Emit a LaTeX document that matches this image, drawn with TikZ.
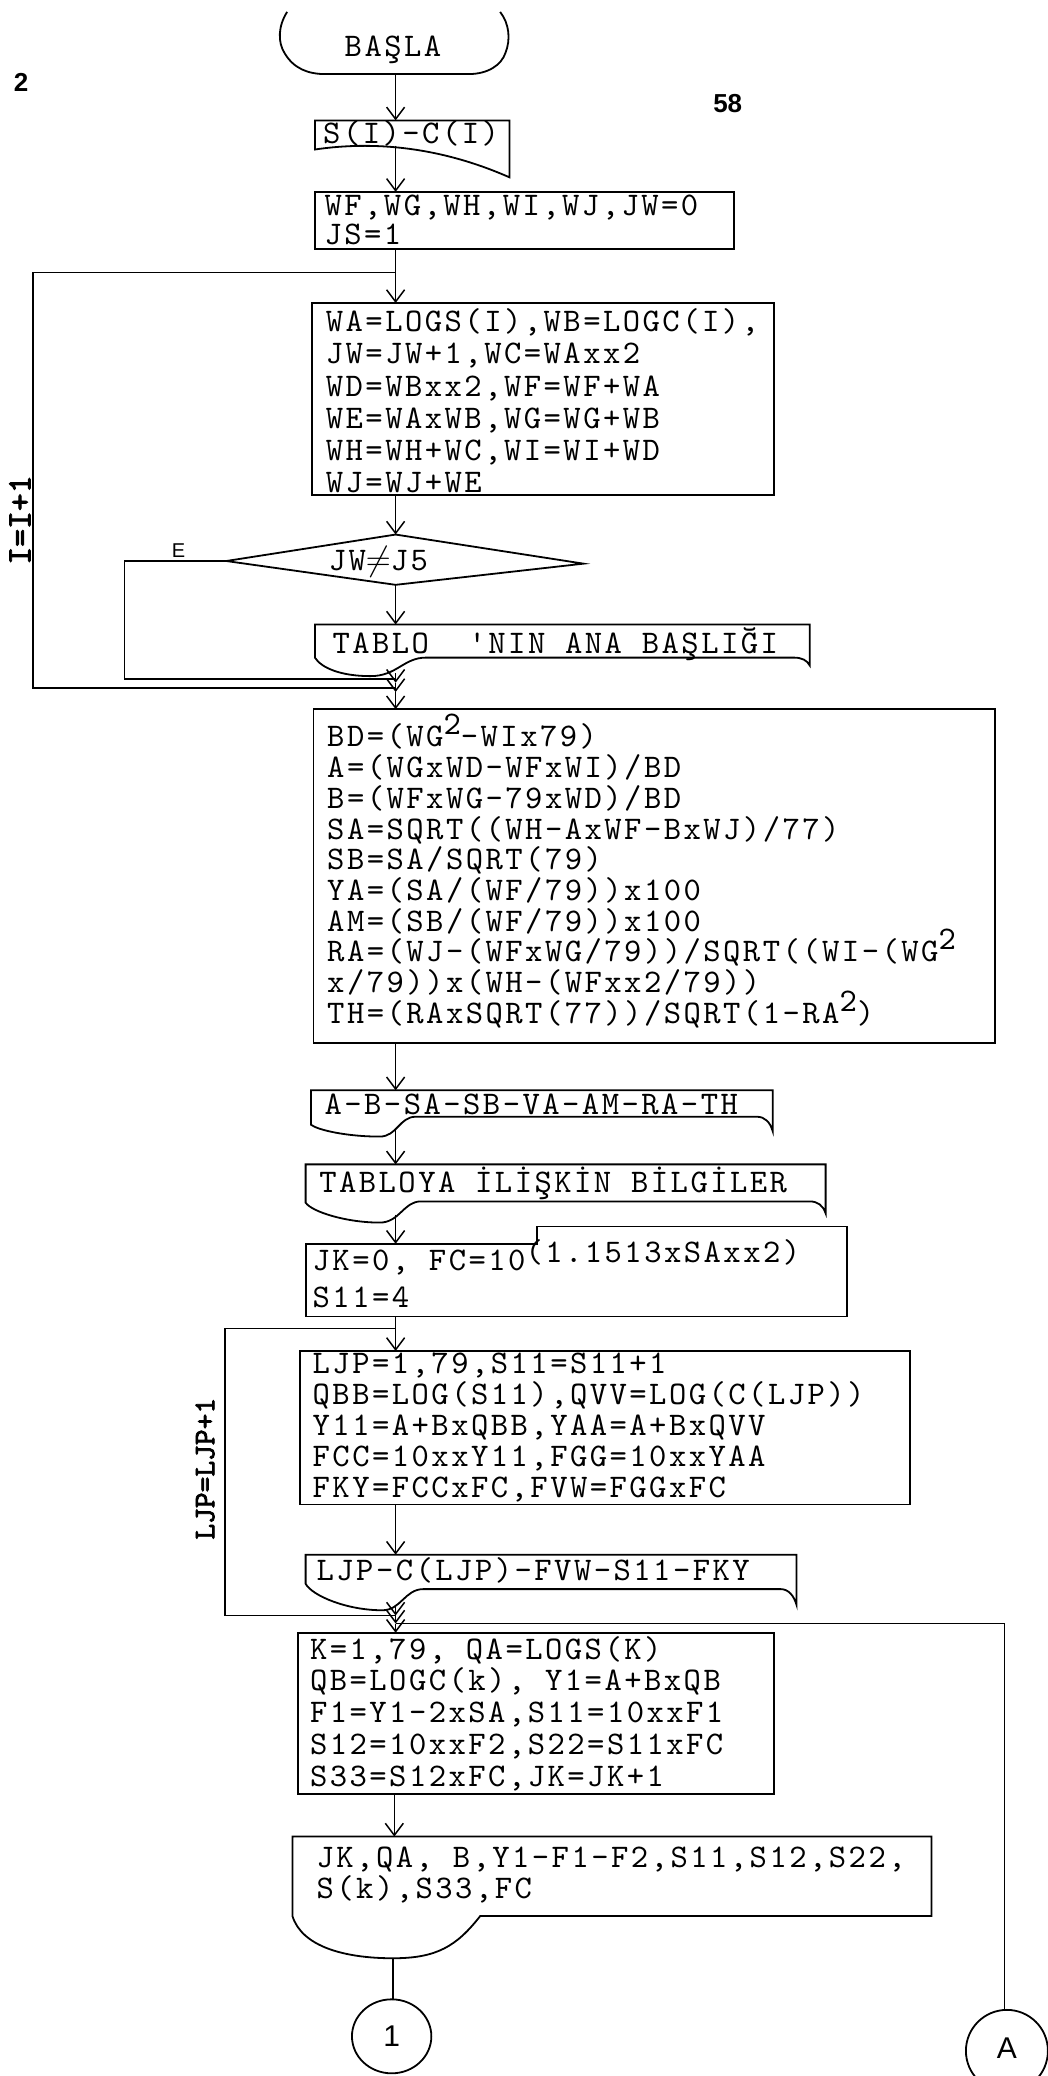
\documentclass[tikz,border=0pt]{standalone}
\usepackage{fontspec}
\usetikzlibrary{arrows.meta}
\newfontfamily\tw{lmmono10-regular.otf}[LetterSpace=7.5]
\newfontfamily\twb{lmmono10-regular.otf}[FakeBold=2.5]
\newfontfamily\hs{Liberation Sans}
\newcommand\sups[1]{\smash{\raisebox{6pt}{#1}}}
\begin{document}
\begin{tikzpicture}[x=0.6616pt,y=-0.6616pt,
  ln/.style={line width=0.75pt},
  arr/.style={line width=0.75pt,-{Straight Barb[length=6pt,width=9pt]}},
  shp/.style={line width=0.9pt},
  txt/.style={font={\tw\fontsize{16.5}{#1}\selectfont\lineskiplimit=-100pt}, inner sep=0pt, anchor=west, align=left},
  txt/.default=15.5,
  lbl/.style={font={\twb\fontsize{17}{17}\selectfont}, inner sep=0pt, rotate=90},
  num/.style={font={\hs\bfseries\fontsize{13}{13}\selectfont}, inner sep=0pt},
]
\useasboundingbox (0,0) rectangle (792,1569);
\clip (0,0) rectangle (792,1569);
\fill[white] (0,0) rectangle (792,1569);

% page numbers
\node[num] (pg2) at (16,62) {2};
\node[num] (pg58) at (550,78) {58};

% start terminal (open at top)
\draw[shp] (217,9) .. controls (210,20) and (210,32) .. (215,40) .. controls (222,52) and (233,56) .. (246,56) -- (354,56) .. controls (369,56) and (379,49) .. (382,40) .. controls (386,30) and (385,18) .. (378,9);
\node[txt, anchor=center] (basla) at (297,38) {BAŞLA};
\coordinate (basla-s) at (299,56);

% input document S(I)-C(I)
\draw[shp] (238,91) -- (385,91) -- (385,134) .. controls (335,112) and (285,106) .. (238,113) -- cycle;
\node[txt] (inp) at (244,101) {S(I)-C(I)};
\coordinate (inp-n) at (299,91);
\coordinate (inp-s) at (299,110);
\draw[arr] (basla-s) -- (inp-n);

% init box
\draw[shp] (238,145) rectangle (555,188);
\node[txt=14.6] (init) at (245,166.5) {WF,WG,WH,WI,WJ,JW=0\\JS=1};
\coordinate (init-n) at (299,145);
\coordinate (init-s) at (299,188);
\draw[arr] (inp-s) -- (init-n);

% loop body box
\draw[shp] (236,229) rectangle (585,374);
\node[txt=16.1] (body) at (246,303) {WA=LOGS(I),WB=LOGC(I),\\JW=JW+1,WC=WAxx2\\WD=WBxx2,WF=WF+WA\\WE=WAxWB,WG=WG+WB\\WH=WH+WC,WI=WI+WD\\WJ=WJ+WE};
\coordinate (body-n) at (299,229);
\coordinate (body-s) at (299,374);
\draw[arr] (init-s) -- (body-n);

% decision
\coordinate (dl) at (171,424);
\coordinate (dt) at (299,404);
\coordinate (dr) at (441,426);
\coordinate (db) at (299,442);
\draw[shp] (dl) -- (dt) -- (dr) -- (db) -- cycle;
\node[txt, anchor=center] (dec) at (286,425) {JW$\neq$J5};
\node[font={\hs\fontsize{10}{10}\selectfont}, inner sep=0pt] (elbl) at (135,416) {E};
\draw[arr] (body-s) -- (dt);

% table heading document
\draw[shp] (238,472) -- (612,472) -- (612,503) .. controls (610,499) and (606,497) .. (600,497) -- (322,497) .. controls (305,497) and (300,511) .. (280,511) .. controls (258,511) and (243,505) .. (238,497) -- cycle;
\node[txt] (head) at (251,487) {TABLO\ \ 'NIN ANA BAŞLIĞI};
\coordinate (head-n) at (299,472);
\coordinate (head-s) at (299,509);
\draw[arr] (db) -- (head-n);

% junctions
\coordinate (j1) at (299,516);
\coordinate (j2) at (299,523);
\coordinate (ej) at (299,513);
\coordinate (oj) at (299,520);
\coordinate (ot) at (299,206);
\draw[ln] (dl) -- (94,424) -- (94,513) -- (ej);
\draw[ln] (oj) -- (25,520) -- (25,206) -- (ot);
\node[lbl] (iinc) at (15,393) {I=I+1};
\draw[arr] (head-s) -- (j1);
\draw[arr] (j1) -- (j2);

% regression box
\draw[shp] (237,536) rectangle (752,788);
\node[txt=15.35] (reg) at (247,662) {BD=(WG\sups{2}-WIx79)\\A=(WGxWD-WFxWI)/BD\\B=(WFxWG-79xWD)/BD\\SA=SQRT((WH-AxWF-BxWJ)/77)\\SB=SA/SQRT(79)\\YA=(SA/(WF/79))x100\\AM=(SB/(WF/79))x100\\RA=(WJ-(WFxWG/79))/SQRT((WI-(WG\sups{2}\\x/79))x(WH-(WFxx2/79))\\TH=(RAxSQRT(77))/SQRT(1-RA\sups{2})};
\coordinate (reg-n) at (299,536);
\coordinate (reg-s) at (299,788);
\draw[arr] (j2) -- (reg-n);

% output A-B-...
\draw[shp] (235,824) -- (584,824) -- (584,855) .. controls (582,848) and (578,844) .. (572,844) -- (314,844) .. controls (302,844) and (300,859) .. (287,859) .. controls (262,859) and (240,854) .. (235,850) -- cycle;
\node[txt] (out1) at (245,835) {A-B-SA-SB-VA-AM-RA-TH};
\coordinate (out1-n) at (299,824);
\coordinate (out1-s) at (299,853);
\draw[arr] (reg-s) -- (out1-n);

% output TABLOYA ...
\draw[shp] (231,880) -- (624,880) -- (624,917) .. controls (622,911) and (618,908) .. (612,908) -- (318,908) .. controls (305,908) and (302,924) .. (287,924) .. controls (262,924) and (236,916) .. (231,909) -- cycle;
\node[txt] (out2) at (241,894) {TABLOYA İLİŞKİN BİLGİLER};
\coordinate (out2-n) at (299,880);
\coordinate (out2-s) at (299,918);
\draw[arr] (out1-s) -- (out2-n);

% JK box
\draw[shp] (231,940) -- (406,940) -- (406,927) -- (640,927) -- (640,995) -- (231,995) -- cycle;
\node[txt=18.5] (jk) at (236,963) {JK=0, FC=10\raisebox{4pt}{(1.1513xSAxx2)}\\S11=4};
\coordinate (jk-n) at (299,940);
\coordinate (jk-s) at (299,995);
\draw[arr] (out2-s) -- (jk-n);

% LJP loop box
\draw[shp] (227,1021) rectangle (688,1137);
\node[txt=15.5] (ljp) at (236,1079) {LJP=1,79,S11=S11+1\\QBB=LOG(S11),QVV=LOG(C(LJP))\\Y11=A+BxQBB,YAA=A+BxQVV\\FCC=10xxY11,FGG=10xxYAA\\FKY=FCCxFC,FVW=FGGxFC};
\coordinate (ljp-n) at (299,1021);
\coordinate (ljp-s) at (299,1137);
\coordinate (lt) at (299,1004);
\draw[arr] (jk-s) -- (ljp-n);

% output LJP-...
\draw[shp] (231,1175) -- (602,1175) -- (602,1213) .. controls (600,1206) and (596,1201) .. (590,1201) -- (320,1201) .. controls (306,1201) and (303,1217) .. (289,1217) .. controls (262,1217) and (236,1206) .. (231,1197) -- cycle;
\node[txt] (out3) at (239,1187) {LJP-C(LJP)-FVW-S11-FKY};
\coordinate (out3-n) at (299,1175);
\coordinate (out3-s) at (299,1213);
\draw[arr] (ljp-s) -- (out3-n);

% LJP loop back
\coordinate (lj) at (299,1221);
\coordinate (aj) at (299,1227);
\draw[ln] (lj) -- (170,1221) -- (170,1004) -- (lt);
\node[lbl, font={\twb\fontsize{15}{15}\selectfont}] (ljpinc) at (155,1110) {LJP=LJP+1};
\draw[arr] (out3-s) -- (lj);
\draw[arr] (lj) -- (aj);

% K loop box
\draw[shp] (225,1234) rectangle (585,1356);
\node[txt=15.9] (kb) at (234,1295) {K=1,79, QA=LOGS(K)\\QB=LOGC(k), Y1=A+BxQB\\F1=Y1-2xSA,S11=10xxF1\\S12=10xxF2,S22=S11xFC\\S33=S12xFC,JK=JK+1};
\coordinate (kb-n) at (299,1234);
\coordinate (kb-s) at (298,1356);
\draw[arr] (aj) -- (kb-n);

% connector A
\draw[shp] (761,1550) circle [radius=20.5pt];
\node[font={\hs\fontsize{15}{15}\selectfont}, inner sep=0pt] (ca) at (761,1548) {A};
\coordinate (ca-n) at (759,1519);
\draw[ln] (ca-n) -- (759,1227) -- (aj);

% final output document
\draw[shp] (221,1388) -- (704,1388) -- (704,1448) -- (363,1448) .. controls (345,1471) and (330,1480) .. (297,1480) .. controls (260,1480) and (228,1471) .. (221,1448) -- cycle;
\node[txt=15.2] (out4) at (239,1417) {JK,QA, B,Y1-F1-F2,S11,S12,S22,\\S(k),S33,FC};
\coordinate (out4-n) at (298,1388);
\coordinate (out4-s) at (297,1480);
\draw[arr] (kb-s) -- (out4-n);

% connector 1
\draw[shp] (296,1539) ellipse [x radius=19.85pt, y radius=18.5pt];
\node[font={\hs\fontsize{15}{15}\selectfont}, inner sep=0pt] (c1) at (296,1539) {1};
\coordinate (c1-n) at (297,1511);
\draw[ln] (out4-s) -- (c1-n);
\end{tikzpicture}
\end{document}
